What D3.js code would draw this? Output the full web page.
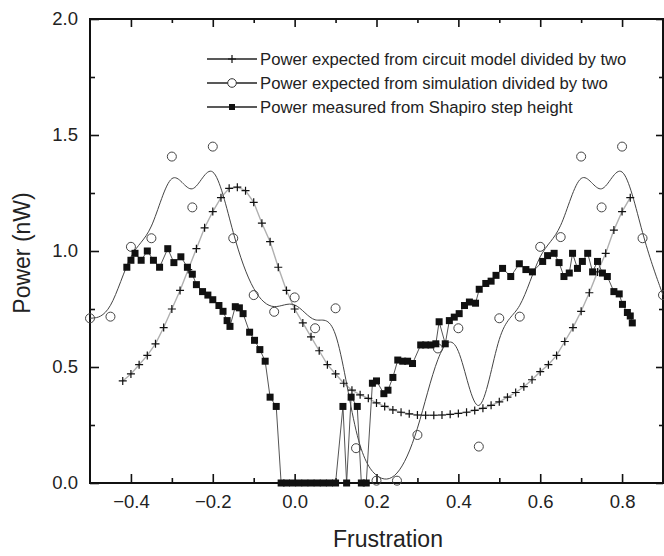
<!DOCTYPE html>
<html>
<head>
<meta charset="utf-8">
<script src="https://cdn.jsdelivr.net/npm/d3@7"></script>
<style>
  html, body { margin: 0; padding: 0; background: #fff; }
  svg text { font-family: "Liberation Sans", Arial, sans-serif; fill: #222; }
</style>
</head>
<body>
<svg id="chart" width="664" height="556"></svg>
<script>
// circuit model divided by two (crosses)
const circuitX = [-0.42,-0.40,-0.38,-0.36,-0.34,-0.32,-0.30,-0.28,-0.26,-0.24,-0.22,-0.20,-0.18,-0.16,-0.14,-0.12,-0.10,-0.08,-0.06,-0.04,-0.02,0.00,0.02,0.04,0.06,0.08,0.10,0.12,0.14,0.16,0.18,0.20,0.22,0.24,0.26,0.28,0.30,0.32,0.34,0.36,0.38,0.40,0.42,0.44,0.46,0.48,0.50,0.52,0.54,0.56,0.58,0.60,0.62,0.64,0.66,0.68,0.70,0.72,0.74,0.76,0.78,0.80,0.82];
const circuitY = [0.44,0.47,0.51,0.55,0.60,0.67,0.75,0.83,0.92,1.01,1.10,1.17,1.23,1.27,1.275,1.26,1.21,1.12,1.04,0.93,0.83,0.75,0.69,0.63,0.57,0.51,0.47,0.43,0.40,0.38,0.365,0.345,0.33,0.315,0.305,0.298,0.293,0.292,0.292,0.293,0.296,0.30,0.305,0.313,0.322,0.335,0.35,0.37,0.39,0.415,0.445,0.48,0.51,0.55,0.61,0.67,0.74,0.82,0.91,0.99,1.09,1.17,1.23];

// simulation divided by two (open circles, smooth curve through them)
const simX = [-0.50,-0.45,-0.40,-0.35,-0.30,-0.25,-0.20,-0.15,-0.10,-0.05,0.00,0.05,0.10,0.15,0.20,0.25,0.30,0.35,0.40,0.45,0.50,0.55,0.60,0.65,0.70,0.75,0.80,0.85,0.90];
const simY = [0.71,0.717,1.018,1.055,1.407,1.188,1.45,1.055,0.81,0.738,0.80,0.667,0.753,0.15,0.01,0.01,0.207,0.58,0.667,0.157,0.71,0.717,1.018,1.06,1.407,1.188,1.45,1.055,0.81];

// measured from Shapiro step height (filled squares)
const measX = [-0.41,-0.40,-0.39,-0.375,-0.36,-0.345,-0.33,-0.31,-0.295,-0.278,-0.262,-0.25,-0.24,-0.225,-0.212,-0.20,-0.185,-0.175,-0.165,-0.158,-0.145,-0.135,-0.126,-0.11,-0.098,-0.085,-0.072,-0.06,-0.045,-0.033,-0.02,-0.005,0.01,0.025,0.04,0.055,0.07,0.085,0.10,0.118,0.127,0.138,0.153,0.163,0.175,0.19,0.20,0.218,0.228,0.24,0.252,0.264,0.276,0.288,0.308,0.32,0.333,0.345,0.353,0.368,0.378,0.39,0.402,0.415,0.427,0.442,0.451,0.467,0.48,0.492,0.508,0.528,0.549,0.565,0.581,0.606,0.618,0.634,0.646,0.658,0.671,0.679,0.691,0.703,0.716,0.728,0.74,0.752,0.764,0.78,0.793,0.801,0.813,0.82,0.825];
const measY = [0.93,0.96,0.99,0.96,1.00,0.96,0.93,1.01,0.95,0.975,0.93,0.90,0.855,0.825,0.81,0.79,0.765,0.74,0.70,0.675,0.76,0.755,0.73,0.65,0.615,0.575,0.525,0.37,0.33,0,0,0,0,0,0,0,0,0,0,0.33,0,0.37,0.33,0,0,0.43,0.44,0.385,0.40,0.455,0.53,0.525,0.525,0.515,0.595,0.595,0.595,0.60,0.695,0.60,0.70,0.715,0.73,0.765,0.78,0.775,0.835,0.86,0.87,0.895,0.925,0.89,0.945,0.92,0.91,0.955,0.98,0.99,0.95,0.89,0.905,0.99,0.925,0.955,0.99,0.91,0.955,0.905,0.89,0.825,0.815,0.77,0.735,0.72,0.69];

// ticks and labels
const xMajor = [-0.4,-0.2,0.0,0.2,0.4,0.6,0.8];
const xMinor = [-0.3,-0.1,0.1,0.3,0.5,0.7];
const yMajor = [0.0,0.5,1.0,1.5,2.0];
const yMinor = [0.25,0.75,1.25,1.75];
const legendLabels = [
    "Power expected from circuit model divided by two",
    "Power expected from simulation divided by two",
    "Power measured from Shapiro step height"
];

(() => {

    const svg = d3.select("#chart");

    const left = 90, right = 663, top = 19, bottom = 483;

    const x = d3.scaleLinear().domain([-0.5, 0.9]).range([left, right]);
    const y = d3.scaleLinear().domain([0, 2]).range([bottom, top]);

    const zip = (xs, ys) => xs.map((v, i) => ({x: v, y: ys[i]}));
    const circuit = zip(circuitX, circuitY);
    const sim = zip(simX, simY);
    const meas = zip(measX, measY);

    // axes ----------------------------------------------------------
    const fmt = d3.format(".1f");
    const axes = [
        {ax: d3.axisBottom(x).tickValues(xMajor).tickSize(-9).tickPadding(12).tickFormat(fmt), at: `translate(0,${bottom})`},
        {ax: d3.axisBottom(x).tickValues(xMinor).tickSize(-5).tickFormat(""), at: `translate(0,${bottom})`},
        {ax: d3.axisTop(x).tickValues(xMajor).tickSize(-8).tickFormat(""), at: `translate(0,${top})`},
        {ax: d3.axisTop(x).tickValues(xMinor).tickSize(-4).tickFormat(""), at: `translate(0,${top})`},
        {ax: d3.axisLeft(y).tickValues(yMajor).tickSize(-9).tickPadding(12).tickFormat(fmt), at: `translate(${left},0)`},
        {ax: d3.axisLeft(y).tickValues(yMinor).tickSize(-5).tickFormat(""), at: `translate(${left},0)`},
        {ax: d3.axisRight(y).tickValues(yMajor).tickSize(-7).tickFormat(""), at: `translate(${right},0)`},
        {ax: d3.axisRight(y).tickValues(yMinor).tickSize(-4).tickFormat(""), at: `translate(${right},0)`}
    ];

    axes.forEach(a => {
        const g = svg.append("g").attr("transform", a.at).call(a.ax.tickSizeOuter(0));
        g.select(".domain").remove();
        g.selectAll("line").attr("stroke", "#111").attr("stroke-width", 1.6);
        g.selectAll("text").attr("font-size", "18.5px").attr("fill", "#2a2a2a");
    });

    // frame
    svg.append("rect")
       .attr("x", left).attr("y", top)
       .attr("width", right - left).attr("height", bottom - top)
       .attr("fill", "none").attr("stroke", "#111").attr("stroke-width", 2);

    // axis titles
    svg.append("text")
       .attr("x", 388).attr("y", 547)
       .attr("text-anchor", "middle")
       .attr("font-size", "23px")
       .text("Frustration");

    svg.append("text")
       .attr("transform", "translate(30,253) rotate(-90)")
       .attr("text-anchor", "middle")
       .attr("font-size", "23px")
       .text("Power (nW)");

    // lines ---------------------------------------------------------
    const straight = d3.line().x(d => x(d.x)).y(d => y(d.y));
    const smooth = d3.line().x(d => x(d.x)).y(d => y(d.y)).curve(d3.curveBasis);

    svg.append("path").datum(circuit)
       .attr("d", straight).attr("fill", "none")
       .attr("stroke", "#b0b0b0").attr("stroke-width", 1.4);

    svg.append("path").datum(sim)
       .attr("d", smooth).attr("fill", "none")
       .attr("stroke", "#444").attr("stroke-width", 1);

    svg.append("path").datum(meas)
       .attr("d", straight).attr("fill", "none")
       .attr("stroke", "#555").attr("stroke-width", 1);

    // markers -------------------------------------------------------
    const crossPath = "M-4,0H4M0,-4V4";

    svg.append("g").selectAll("path")
       .data(circuit).enter().append("path")
       .attr("transform", d => `translate(${x(d.x)},${y(d.y)})`)
       .attr("d", crossPath)
       .attr("stroke", "#111").attr("stroke-width", 1.2);

    svg.append("g").selectAll("circle")
       .data(sim).enter().append("circle")
       .attr("cx", d => x(d.x)).attr("cy", d => y(d.y))
       .attr("r", 4.5)
       .attr("fill", "none").attr("stroke", "#444").attr("stroke-width", 1);

    svg.append("g").selectAll("rect")
       .data(meas).enter().append("rect")
       .attr("x", d => x(d.x) - 3.5).attr("y", d => y(d.y) - 3.5)
       .attr("width", 7).attr("height", 7)
       .attr("fill", "#111");

    // legend --------------------------------------------------------
    const legend = svg.append("g");
    legendLabels.forEach((label, i) => {
        const ly = 59 + i * 24;
        legend.append("line")
              .attr("x1", 207).attr("x2", 257).attr("y1", ly).attr("y2", ly)
              .attr("stroke", "#222").attr("stroke-width", 1.3);
        if (i == 0) {
            legend.append("path").attr("transform", `translate(232,${ly})`)
                  .attr("d", crossPath).attr("stroke", "#111").attr("stroke-width", 1.2);
        }
        if (i == 1) {
            legend.append("circle").attr("cx", 232).attr("cy", ly).attr("r", 4.3)
                  .attr("fill", "#fff").attr("stroke", "#333");
        }
        if (i == 2) {
            legend.append("rect").attr("x", 229).attr("y", ly - 3).attr("width", 6).attr("height", 6)
                  .attr("fill", "#111");
        }
        legend.append("text")
              .attr("x", 260).attr("y", ly + 6)
              .attr("font-size", "16.7px")
              .attr("fill", "#2a2a2a")
              .text(label);
    });

})();
</script>
</body>
</html>
